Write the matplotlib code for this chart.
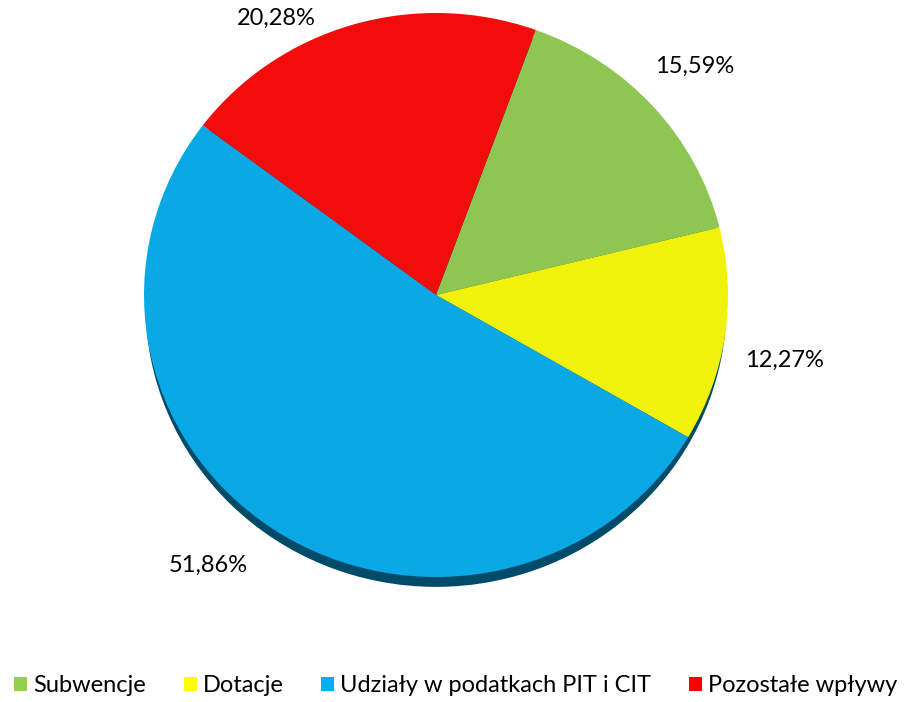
import matplotlib.pyplot as plt
from matplotlib.patches import Ellipse, Patch

categories = ['Subwencje', 'Dotacje', 'Udziały w podatkach PIT i CIT', 'Pozostałe wpływy']
shares = [15.59, 12.27, 51.86, 20.28]

slice_colors = ['#8fc553', '#f1f20a', '#0aa9e6', '#f20c0c']
legend_colors = ['#92d050', '#ffff00', '#00b0f0', '#ff0000']
# label positions in axes data units (ellipse radius = 1)
label_pos = [(0.885, 0.812), (1.195, -0.23), (-0.78, -0.96), (-0.548, 0.982)]

plt.rcParams['font.family'] = ['Lato', 'DejaVu Sans']

fig = plt.figure(figsize=(9.11, 7.02), dpi=100)
W, H = 911, 702
cx, cy, rx, ry = 436, 295, 292, 282
ax = fig.add_axes([(cx - rx) / W, (H - cy - ry) / H, 2 * rx / W, 2 * ry / H])

# 3D-like dark rim under the pie
shadow = Ellipse((0, -0.035), 1.99, 2.0, facecolor='#004a6a', edgecolor='none',
                 zorder=0, clip_on=False)
ax.add_patch(shadow)

wedges, texts, autotexts = ax.pie(
    shares, colors=slice_colors, startangle=70, counterclock=False,
    autopct=lambda p: f'{p:.2f}%'.replace('.', ','),
    wedgeprops=dict(linewidth=0, zorder=1),
    textprops=dict(fontsize=17, color='black'), normalize=True)

for t, v, pos in zip(autotexts, shares, label_pos):
    t.set_text(f'{v:.2f}%'.replace('.', ','))
    t.set_position(pos)
    t.set_clip_on(False)

ax.set_xlim(-1, 1)
ax.set_ylim(-1, 1)
ax.set_aspect('auto')
ax.axis('off')

handles = [Patch(facecolor=c, edgecolor='none') for c in legend_colors]
fig.legend(handles, categories, loc='center', bbox_to_anchor=(0.5, 1 - 686 / H),
           ncol=4, frameon=False, fontsize=17, handlelength=0.55,
           handleheight=0.55, handletextpad=0.25, columnspacing=1.6)

fig.savefig('out.png', dpi=100)
